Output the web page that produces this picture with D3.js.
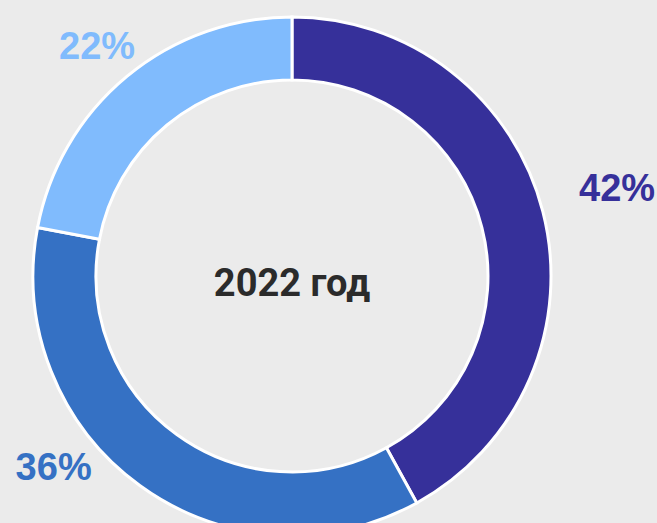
<!DOCTYPE html>
<html><head><meta charset="utf-8">
<script src="https://cdn.jsdelivr.net/npm/d3@7"></script>
<style>html,body{margin:0;padding:0;background:#ebebeb;}svg{display:block;}</style>
</head><body>
<svg id="chart" width="657" height="523"></svg>
<script>
const categories = ["A", "B", "C"];
const values = [42, 36, 22];
const labels = ["42%", "36%", "22%"];
const colors = ["#36309a", "#3571c4", "#80bbfd"];
const centerTitle = "2022 год";

// layout (not data)
const W = 657, H = 523, cx = 292, cy = 276, rOuter = 259, rInner = 196;
// label placement: polar angle (deg, clockwise from top) and radius
const labelPolar = [[74.7, 337], [231.4, 305], [319.8, 302]];

const svg = d3.select("#chart");
svg.append("rect").attr("width", W).attr("height", H).attr("fill", "#ebebeb");
const g = svg.append("g").attr("transform", `translate(${cx},${cy})`);

const pie = d3.pie().sort(null).value(d => d)(values);
const arc = d3.arc().innerRadius(rInner).outerRadius(rOuter);

g.selectAll("path").data(pie).join("path")
  .attr("d", arc)
  .attr("fill", (d, i) => colors[i])
  .attr("stroke", "#ffffff")
  .attr("stroke-width", 3)
  .attr("stroke-linejoin", "miter");

g.selectAll("text.lbl").data(pie).join("text")
  .attr("class", "lbl")
  .attr("x", (d, i) => labelPolar[i][1] * Math.sin(labelPolar[i][0] * Math.PI / 180))
  .attr("y", (d, i) => -labelPolar[i][1] * Math.cos(labelPolar[i][0] * Math.PI / 180))
  .attr("dy", "0.36em")
  .attr("text-anchor", "middle")
  .attr("font-family", "Liberation Sans, Arial, sans-serif")
  .attr("font-weight", "bold")
  .attr("font-size", 38)
  .attr("fill", (d, i) => colors[i])
  .text((d, i) => labels[i]);

g.append("text")
  .attr("x", 0).attr("y", 6)
  .attr("dy", "0.36em")
  .attr("text-anchor", "middle")
  .attr("font-family", "Roboto, Liberation Sans, Arial, sans-serif")
  .attr("font-weight", "bold")
  .attr("font-size", 38)
  .attr("fill", "#2b2b2b")
  .text(centerTitle);
</script>
</body></html>
